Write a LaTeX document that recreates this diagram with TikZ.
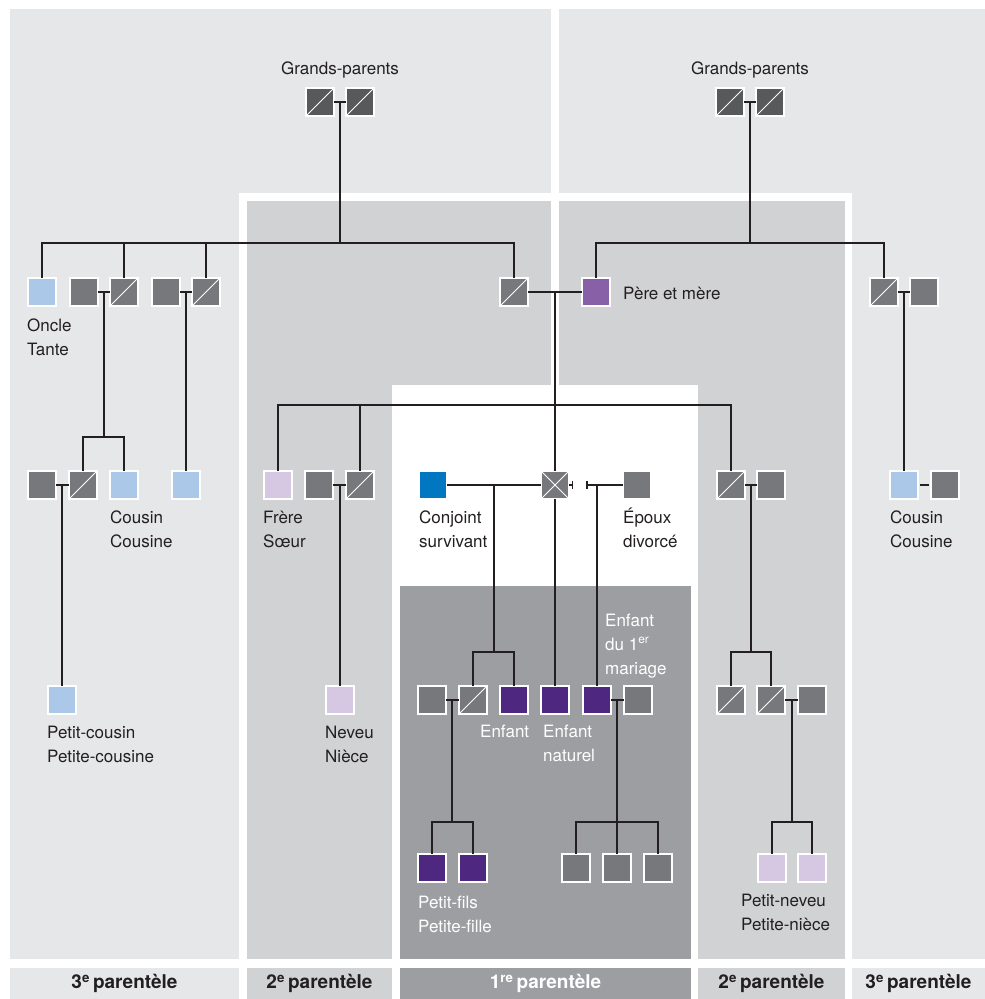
\documentclass[tikz,border=0pt]{standalone}
\usepackage{fontspec}
\setmainfont{TeX Gyre Heros}
\usetikzlibrary{arrows.meta,calc}
\definecolor{pLight}{HTML}{E6E7E8}
\definecolor{pMid}{HTML}{D1D2D4}
\definecolor{pDark}{HTML}{9D9EA1}
\definecolor{sqGray}{HTML}{77787B}
\definecolor{sqDark}{HTML}{58595B}
\definecolor{sqBlue}{HTML}{0077C0}
\definecolor{sqLBlue}{HTML}{ABC8E8}
\definecolor{sqLilac}{HTML}{D6C8E3}
\definecolor{sqPurple}{HTML}{8760A8}
\definecolor{sqDPurple}{HTML}{4E2780}
\definecolor{lineC}{HTML}{231F20}
\newcommand{\lstr}{\rule{0pt}{16.5pt}}
\begin{document}
\begin{tikzpicture}[x=1pt,y=-1pt,
  ln/.style={draw=lineC, line width=1.5pt},
  sq/.style={draw=white, line width=2.5pt, minimum size=28pt, inner sep=0pt, outer sep=0pt},
  gsq/.style={sq, fill=sqGray},
  dsq/.style={sq, fill=sqDark},
  lbsq/.style={sq, fill=sqLBlue},
  lisq/.style={sq, fill=sqLilac},
  pusq/.style={sq, fill=sqPurple},
  dpsq/.style={sq, fill=sqDPurple},
  blsq/.style={sq, fill=sqBlue},
  slash/.style={path picture={\draw[white, line width=1pt] (path picture bounding box.south west) -- (path picture bounding box.north east);}},
  cross/.style={path picture={\draw[white, line width=1pt] (path picture bounding box.south west) -- (path picture bounding box.north east) (path picture bounding box.north west) -- (path picture bounding box.south east);}},
  lbl/.style={font=\fontsize{17}{24}\selectfont, text=lineC, align=left, inner sep=0pt, anchor=north west},
  wlbl/.style={lbl, text=white},
  tlbl/.style={font=\fontsize{17}{24}\selectfont, text=lineC, inner sep=0pt},
  strip/.style={inner sep=0pt, minimum height=31pt, font=\bfseries\fontsize{19}{22}\selectfont, text=lineC},
  divl/.style={ln, -{Bar[width=8pt,line width=1.5pt]}},
  divr/.style={ln, {Bar[width=8pt,line width=1.5pt]}-},
]
\useasboundingbox (0,0) rectangle (985,999);
% ---------- background panels ----------
\fill[white] (0,0) rectangle (985,999);
\fill[pLight] (10,9) rectangle (551,959);
\fill[pLight] (559,9) rectangle (985,959);
\fill[white] (239,193) rectangle (852,959);
\fill[pMid] (247,201) rectangle (845,959);
\fill[white] (551,201) rectangle (559,385);
\fill[white] (392,385) rectangle (698,959);
\fill[pDark] (400,586) rectangle (691,959);

% ---------- bottom strips ----------
\node[strip, fill=pLight, minimum width=229pt] (s3l) at (124.5,983.5) {3\textsuperscript{e}\,parentèle};
\node[strip, fill=pMid, minimum width=145pt] (s2l) at (319.5,983.5) {2\textsuperscript{e}\,parentèle};
\node[strip, fill=pDark, minimum width=291pt, text=white] (s1) at (545.5,983.5) {1\textsuperscript{re}\,parentèle};
\node[strip, fill=pMid, minimum width=147pt] (s2r) at (771.5,983.5) {2\textsuperscript{e}\,parentèle};
\node[strip, fill=pLight, minimum width=133pt] (s3r) at (918.5,983.5) {3\textsuperscript{e}\,parentèle};

% ---------- coordinates of bars ----------
\coordinate (barA) at (0,243);
\coordinate (barB) at (0,405);
\coordinate (barC) at (0,437);
\coordinate (barD) at (0,652);
\coordinate (barE) at (0,822);

% ---------- nodes ----------
% grandparents
\node[dsq,slash] (gpl1) at (320,102) {};
\node[dsq,slash] (gpl2) at (360,102) {};
\node[dsq,slash] (gpr1) at (730,102) {};
\node[dsq,slash] (gpr2) at (770,102) {};
\coordinate (mgpl) at (340,102);
\coordinate (mgpr) at (750,102);
% generation of parents / uncles
\node[lbsq] (oncle) at (42,292) {};
\node[gsq] (o1a) at (84,292) {};
\node[gsq,slash] (o1b) at (124,292) {};
\node[gsq] (o2a) at (166,292) {};
\node[gsq,slash] (o2b) at (206,292) {};
\node[gsq,slash] (pere) at (514,292) {};
\node[pusq] (mere) at (596,292) {};
\node[gsq,slash] (u1) at (884,292) {};
\node[gsq] (u1w) at (924,292) {};
\coordinate (m1) at (104,292);
\coordinate (m2) at (186,292);
\coordinate (mpm) at (555,292);
\coordinate (mu) at (904,292);
% generation of ego / cousins / siblings
\node[gsq] (c1a) at (42,485) {};
\node[gsq,slash] (c1b) at (83,485) {};
\node[lbsq] (c1c) at (124,485) {};
\node[lbsq] (c2) at (186,485) {};
\coordinate (mc1) at (62,485);
\node[lisq] (frere) at (278,485) {};
\node[gsq] (n1a) at (319,485) {};
\node[gsq,slash] (n1b) at (360,485) {};
\coordinate (mn1) at (340,485);
\node[blsq] (conj) at (433,485) {};
\node[gsq,cross] (ego) at (555,485) {};
\node[gsq] (div) at (637,485) {};
\coordinate (dv1) at (573,485);
\coordinate (dv2) at (586,485);
\coordinate (mconj) at (494,485);
\node[gsq,slash] (s2a) at (731,485) {};
\node[gsq] (s2b) at (771,485) {};
\coordinate (ms2) at (751,485);
\node[lbsq] (cr) at (904,485) {};
\node[gsq] (crw) at (945,485) {};
% children generation
\node[lbsq] (pc) at (62,700) {};
\node[lisq] (neveu) at (340,700) {};
\node[gsq] (k0) at (432,700) {};
\node[gsq,slash] (k1) at (473,700) {};
\node[dpsq] (k2) at (514,700) {};
\node[dpsq] (nat) at (555,700) {};
\node[dpsq] (e1) at (597,700) {};
\node[gsq] (e1w) at (638,700) {};
\coordinate (mk) at (452,700);
\coordinate (me1) at (617,700);
\node[gsq,slash] (r1) at (731,700) {};
\node[gsq,slash] (r2) at (771,700) {};
\node[gsq] (r3) at (812,700) {};
\coordinate (mr) at (792,700);
% grandchildren
\node[dpsq] (pf1) at (432,868) {};
\node[dpsq] (pf2) at (473,868) {};
\node[gsq] (g1) at (576,868) {};
\node[gsq] (g2) at (617,868) {};
\node[gsq] (g3) at (658,868) {};
\node[lisq] (pn1) at (772,868) {};
\node[lisq] (pn2) at (812,868) {};

% ---------- connectors ----------
% left grandparents
\draw[ln] (gpl1) -- (gpl2);
\draw[ln] (mgpl) -- (mgpl |- barA);
\draw[ln] (oncle.north) -- (oncle |- barA) -- (pere |- barA) -- (pere.north);
\draw[ln] (o1b.north) -- (o1b |- barA);
\draw[ln] (o2b.north) -- (o2b |- barA);
% right grandparents
\draw[ln] (gpr1) -- (gpr2);
\draw[ln] (mgpr) -- (mgpr |- barA);
\draw[ln] (mere.north) -- (mere |- barA) -- (u1 |- barA) -- (u1.north);
% uncle pair 1
\draw[ln] (o1a) -- (o1b);
\draw[ln] (m1) -- (m1 |- barC);
\draw[ln] (c1b.north) -- (c1b |- barC) -- (c1c |- barC) -- (c1c.north);
% cousin + spouse
\draw[ln] (c1a) -- (c1b);
\draw[ln] (mc1) -- (pc.north);
% uncle pair 2
\draw[ln] (o2a) -- (o2b);
\draw[ln] (m2) -- (c2.north);
% parents
\draw[ln] (pere) -- (mere);
\draw[ln] (mpm) -- (mpm |- barB);
\draw[ln] (frere.north) -- (frere |- barB) -- (s2a |- barB) -- (s2a.north);
\draw[ln] (n1b.north) -- (n1b |- barB);
\draw[ln] (ego.north) -- (ego |- barB);
% sibling pair
\draw[ln] (n1a) -- (n1b);
\draw[ln] (mn1) -- (neveu.north);
% ego and spouses
\draw[ln] (conj) -- (ego);
\draw[ln] (mconj) -- (mconj |- barD);
\draw[ln] (k1.north) -- (k1 |- barD) -- (k2 |- barD) -- (k2.north);
\draw[ln] (ego.south) -- (nat.north);
\draw[divl] (ego) -- (dv1);
\draw[divr] (dv2) -- (div);
\draw[ln] (e1 |- div) -- (e1.north);
% children's families
\draw[ln] (k0) -- (k1);
\draw[ln] (mk) -- (mk |- barE);
\draw[ln] (pf1.north) -- (pf1 |- barE) -- (pf2 |- barE) -- (pf2.north);
\draw[ln] (e1) -- (e1w);
\draw[ln] (me1) -- (me1 |- barE);
\draw[ln] (g1.north) -- (g1 |- barE) -- (g3 |- barE) -- (g3.north);
\draw[ln] (g2.north) -- (g2 |- barE);
% right siblings
\draw[ln] (s2a) -- (s2b);
\draw[ln] (ms2) -- (ms2 |- barD);
\draw[ln] (r1.north) -- (r1 |- barD) -- (r2 |- barD) -- (r2.north);
\draw[ln] (r2) -- (r3);
\draw[ln] (mr) -- (mr |- barE);
\draw[ln] (pn1.north) -- (pn1 |- barE) -- (pn2 |- barE) -- (pn2.north);
% right uncle
\draw[ln] (u1) -- (u1w);
\draw[ln] (mu) -- (cr.north);
\draw[ln, shorten <=2pt, shorten >=2pt] (cr) -- (crw);

% ---------- labels ----------
\node[tlbl] (tgpl) at (340,70) {Grands-parents};
\node[tlbl] (tgpr) at (750,70) {Grands-parents};
\node[lbl] (toncle) at (27,314.5) {\lstr Oncle\\Tante};
\node[lbl] (tcousl) at (110,506.5) {\lstr Cousin\\Cousine};
\node[lbl] (tpc) at (47,721.5) {\lstr Petit-cousin\\Petite-cousine};
\node[lbl] (tpm) at (623,282.5) {\lstr Père et mère};
\node[lbl] (tfrere) at (263,506.5) {\lstr Frère\\Sœur};
\node[lbl] (tneveu) at (325,721.5) {\lstr Neveu\\Nièce};
\node[lbl] (tconj) at (419,506.5) {\lstr Conjoint\\survivant};
\node[lbl] (tdiv) at (623,506.5) {\lstr Époux\\divorcé};
\node[lbl] (tcousr) at (890,506.5) {\lstr Cousin\\Cousine};
\node[wlbl] (te1) at (605,609.5) {\lstr Enfant\\du 1\textsuperscript{er}\\mariage};
\node[wlbl] (tk2) at (480,720.5) {\lstr Enfant};
\node[wlbl] (tnat) at (543,720.5) {\lstr Enfant\\naturel};
\node[wlbl] (tpf) at (418,891.5) {\lstr Petit-fils\\Petite-fille};
\node[lbl] (tpn) at (741,889.5) {\lstr Petit-neveu\\Petite-nièce};
\end{tikzpicture}
\end{document}
